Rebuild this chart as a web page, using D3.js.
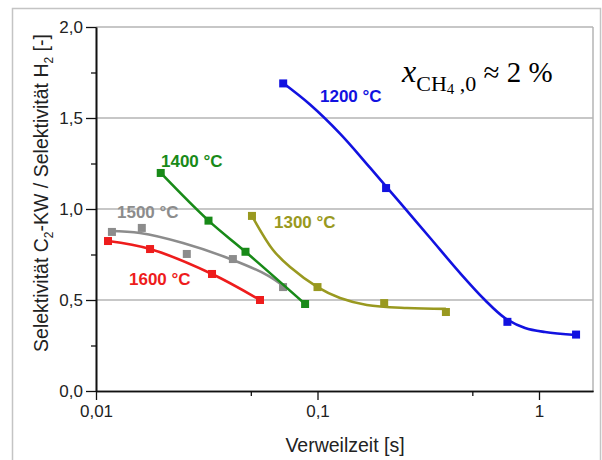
<!DOCTYPE html>
<html>
<head>
<meta charset="utf-8">
<script src="https://cdn.jsdelivr.net/npm/d3@7"></script>
<style>
body { margin:0; background:#fff; }
svg { display:block; font-family:"Liberation Sans", Arial, sans-serif; }
</style>
</head>
<body>
<svg id="chart" width="602" height="460"></svg>
<script>
// ---------- data ----------
var xTicks = [0.01, 0.1, 1];
var xTickLabels = ["0,01", "0,1", "1"];
var xMinor = [0.05, 0.5];
var yTicks = [0, 0.5, 1.0, 1.5, 2.0];
var yTickLabels = ["0,0", "0,5", "1,0", "1,5", "2,0"];
var yMinor = [0.25, 0.75, 1.25, 1.75];

// 1200 °C
var t1200x = [0.07, 0.204, 0.72, 1.47];
var t1200y = [1.69, 1.115, 0.38, 0.31];
var fit1200x = [0.0699, 0.0925, 0.1264, 0.1726, 0.2358, 0.322, 0.4395, 0.57, 0.702, 0.865, 1.064, 1.469];
var fit1200y = [1.692, 1.574, 1.414, 1.227, 1.035, 0.842, 0.649, 0.5, 0.401, 0.346, 0.324, 0.308];
// 1300 °C
var t1300x = [0.0506, 0.1, 0.2, 0.38];
var t1300y = [0.962, 0.571, 0.483, 0.434];
var fit1300x = [0.0506, 0.063, 0.0752, 0.1, 0.1264, 0.167, 0.2535, 0.38];
var fit1300y = [0.962, 0.775, 0.681, 0.571, 0.511, 0.473, 0.456, 0.451];
// 1400 °C
var t1400x = [0.0196, 0.0322, 0.0473, 0.0879];
var t1400y = [1.198, 0.936, 0.765, 0.478];
// 1500 °C
var t1500x = [0.0118, 0.0161, 0.0257, 0.0415, 0.0699];
var t1500y = [0.874, 0.896, 0.753, 0.725, 0.571];
var fit1500x = [0.01157, 0.0158, 0.0247, 0.0415, 0.0592, 0.0713];
var fit1500y = [0.879, 0.868, 0.813, 0.72, 0.637, 0.571];
// 1600 °C
var t1600x = [0.01133, 0.01754, 0.0334, 0.055];
var t1600y = [0.824, 0.78, 0.643, 0.5];

var series = [
  {name:"1200 °C", color:"#1212e0", px:t1200x, py:t1200y, fx:fit1200x, fy:fit1200y, lx:320, ly:102},
  {name:"1300 °C", color:"#999920", px:t1300x, py:t1300y, fx:fit1300x, fy:fit1300y, lx:274, ly:228},
  {name:"1400 °C", color:"#188a18", px:t1400x, py:t1400y, fx:t1400x, fy:t1400y, lx:161, ly:167},
  {name:"1500 °C", color:"#8c8c8c", px:t1500x, py:t1500y, fx:fit1500x, fy:fit1500y, lx:117, ly:218},
  {name:"1600 °C", color:"#ee1c1c", px:t1600x, py:t1600y, fx:t1600x, fy:t1600y, lx:129, ly:285}
];

// ---------- layout ----------
var margins = {left:96, right:9, top:27, bottom:69};
var screen = {width:602, height:460};
var graph = {
  width: screen.width - margins.left - margins.right,
  height: screen.height - margins.top - margins.bottom
};

var svg = d3.select("#chart");

// outer frame
svg.append("rect")
  .attr("x", 12.5).attr("y", 8.5)
  .attr("width", 588).attr("height", 470)
  .attr("fill", "none").attr("stroke", "#c4c4c4").attr("stroke-width", 1.5);

var xScale = d3.scaleLog().domain([0.01, 1.753]).range([0, graph.width]);
var yScale = d3.scaleLinear().domain([0, 2]).range([graph.height, 0]);

var target = svg.append("g")
  .attr("transform", "translate(" + margins.left + "," + margins.top + ")");

// grid lines
target.selectAll(".grid")
  .data(yTicks.slice(1))
  .enter()
  .append("line")
  .attr("x1", 0).attr("x2", graph.width)
  .attr("y1", function(d){ return yScale(d); })
  .attr("y2", function(d){ return yScale(d); })
  .attr("stroke", "#b4b4b4").attr("stroke-width", 1.5);

// right border
target.append("line")
  .attr("x1", graph.width).attr("x2", graph.width)
  .attr("y1", 0).attr("y2", graph.height)
  .attr("stroke", "#b4b4b4").attr("stroke-width", 1.5);

// ---------- axes ----------
var xAxis = d3.axisBottom(xScale)
  .tickValues(xTicks)
  .tickFormat(function(d, i){ return xTickLabels[i]; })
  .tickSize(9).tickPadding(5).tickSizeOuter(0);
var xMinorAxis = d3.axisBottom(xScale).tickValues(xMinor).tickFormat("").tickSize(5).tickSizeOuter(0);
var yAxis = d3.axisLeft(yScale)
  .tickValues(yTicks)
  .tickFormat(function(d, i){ return yTickLabels[i]; })
  .tickSize(10).tickPadding(3).tickSizeOuter(0);
var yMinorAxis = d3.axisLeft(yScale).tickValues(yMinor).tickFormat("").tickSize(5).tickSizeOuter(0);

var gx = target.append("g").attr("transform", "translate(0," + graph.height + ")").call(xAxis);
var gxm = target.append("g").attr("transform", "translate(0," + graph.height + ")").call(xMinorAxis);
var gy = target.append("g").call(yAxis);
var gym = target.append("g").call(yMinorAxis);

[gx, gxm, gy, gym].forEach(function(g){
  g.select(".domain").attr("stroke", "#111").attr("stroke-width", 1.6);
  g.selectAll(".tick line").attr("stroke", "#111").attr("stroke-width", 1.3);
  g.selectAll(".tick text")
    .attr("fill", "#222")
    .style("font-family", "'Liberation Sans', Arial, sans-serif")
    .style("font-size", "17px");
});

// ---------- curves and markers ----------
var line = d3.line()
  .x(function(d){ return xScale(d[0]); })
  .y(function(d){ return yScale(d[1]); })
  .curve(d3.curveCatmullRom.alpha(0.5));

series.slice().reverse().forEach(function(s){
  var fitPts = s.fx.map(function(x, i){ return [x, s.fy[i]]; });
  var pts = s.px.map(function(x, i){ return [x, s.py[i]]; });

  target.append("path")
    .datum(fitPts)
    .attr("d", line)
    .attr("fill", "none")
    .attr("stroke", s.color)
    .attr("stroke-width", 2.6);

  target.selectAll(null)
    .data(pts)
    .enter()
    .append("rect")
    .attr("x", function(d){ return xScale(d[0]) - 4; })
    .attr("y", function(d){ return yScale(d[1]) - 4; })
    .attr("width", 8).attr("height", 8)
    .attr("fill", s.color);

  svg.append("text")
    .attr("x", s.lx).attr("y", s.ly)
    .attr("fill", s.color)
    .style("font-size", "17px")
    .style("font-weight", "bold")
    .text(s.name);
});

// ---------- labels ----------
svg.append("text")
  .attr("text-anchor", "middle")
  .attr("x", 345).attr("y", 452)
  .attr("fill", "#222")
  .style("font-size", "19.5px")
  .text("Verweilzeit [s]");

var ylab = svg.append("text")
  .attr("text-anchor", "middle")
  .attr("transform", "translate(48,193) rotate(-90)")
  .attr("fill", "#222")
  .style("font-size", "19.5px");
ylab.append("tspan").text("Selektivität C");
ylab.append("tspan").attr("dy", 5).style("font-size", "12px").text("2");
ylab.append("tspan").attr("dy", -5).text("-KW / Selektivität H");
ylab.append("tspan").attr("dy", 5).style("font-size", "12px").text("2");
ylab.append("tspan").attr("dy", -5).text(" [-]");

// concentration note
var note = svg.append("text")
  .attr("x", 402).attr("y", 82)
  .attr("fill", "#000")
  .style("font-family", "'Liberation Serif', 'Times New Roman', serif")
  .style("font-size", "29px");
note.append("tspan").style("font-style", "italic").style("font-size", "32px").text("x");
note.append("tspan").attr("dy", 9).style("font-size", "22px").text("CH");
note.append("tspan").attr("dy", 3).style("font-size", "15px").text("4");
note.append("tspan").attr("dy", -3).style("font-size", "22px").text(" ,0");
note.append("tspan").attr("dy", -9).text(" ≈ 2 %");
</script>
</body>
</html>
